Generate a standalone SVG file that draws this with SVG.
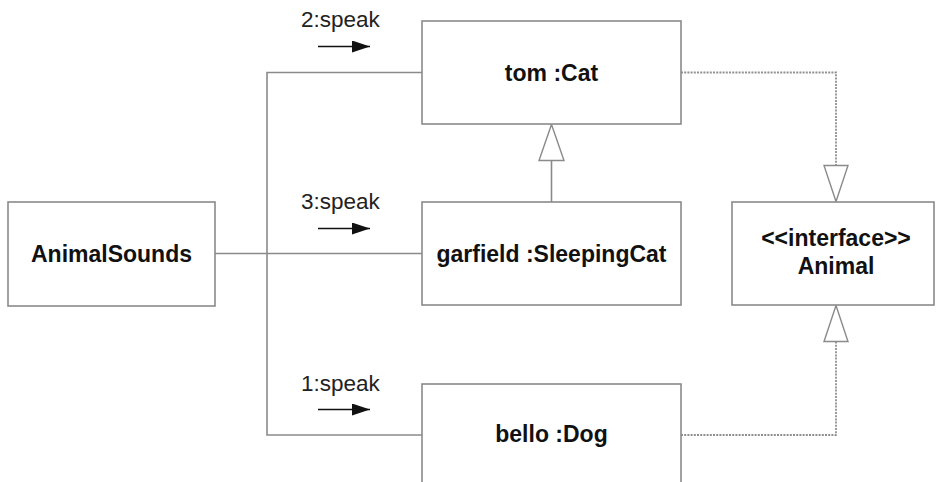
<svg xmlns="http://www.w3.org/2000/svg" width="936" height="482" viewBox="0 0 936 482">
  <defs>
    <style>
      .box { fill: #ffffff; stroke: #8a8a8a; stroke-width: 1.6; }
      .name { font-family: "Liberation Sans", Arial, sans-serif; font-size: 23px; font-weight: bold; fill: #111; text-anchor: middle; }
      .msg { font-family: "Liberation Sans", Arial, sans-serif; font-size: 22.5px; fill: #222; }
      .link { fill: none; stroke: #8a8a8a; stroke-width: 1.6; }
      .real { fill: none; stroke: #8f8f8f; stroke-width: 1.8; stroke-dasharray: 2 1.2; }
      .gen { fill: #ffffff; stroke: #8a8a8a; stroke-width: 1.4; }
      .dir { stroke: #111; stroke-width: 1.6; }
    </style>
    <marker id="msgArrow" viewBox="0 0 18 12" refX="18" refY="6" markerWidth="18" markerHeight="12" markerUnits="userSpaceOnUse" orient="auto">
      <path d="M0,0 L18,6 L0,12 Z" fill="#111"/>
    </marker>
  </defs>

  <rect width="936" height="482" fill="#ffffff"/>

  <!-- links between objects -->
  <g id="connectors">
    <path class="link" d="M215,253.5 H422"/>
    <path class="link" d="M422,72.5 H267 V435 H422"/>
    <!-- generalization: SleepingCat -> Cat -->
    <path class="link" d="M551.5,202 V160.5"/>
    <path class="gen" d="M551.5,124.5 L564,160.5 L539,160.5 Z"/>
    <!-- realizations of Animal -->
    <path class="real" d="M681,72.5 H836 V165.5"/>
    <path class="gen" d="M836,201.5 L848,165.5 L824,165.5 Z"/>
    <path class="real" d="M681,435 H836 V341.5"/>
    <path class="gen" d="M836,305.5 L848,341.5 L824,341.5 Z"/>

    <!-- message labels -->
    <text class="msg" x="301" y="27">2:speak</text>
    <line class="dir" x1="318" y1="46.5" x2="370" y2="46.5" marker-end="url(#msgArrow)"/>
    <text class="msg" x="301" y="208.5">3:speak</text>
    <line class="dir" x1="318" y1="228.5" x2="370" y2="228.5" marker-end="url(#msgArrow)"/>
    <text class="msg" x="301" y="390.5">1:speak</text>
    <line class="dir" x1="318" y1="409.5" x2="370" y2="409.5" marker-end="url(#msgArrow)"/>
  </g>

  <g id="animalSounds">
    <rect class="box" x="8" y="202" width="207" height="104"/>
    <text class="name" x="111.5" y="261.5">AnimalSounds</text>
  </g>

  <g id="tom">
    <rect class="box" x="422" y="21" width="259" height="103"/>
    <text class="name" x="551.5" y="80.5">tom :Cat</text>
  </g>

  <g id="garfield">
    <rect class="box" x="422" y="202" width="259" height="103"/>
    <text class="name" x="551.5" y="261.5">garfield :SleepingCat</text>
  </g>

  <g id="bello">
    <rect class="box" x="422" y="384" width="259" height="110"/>
    <text class="name" x="551.5" y="442">bello :Dog</text>
  </g>

  <g id="animal">
    <rect class="box" x="732" y="202" width="202" height="103"/>
    <text class="name" x="836" y="246">&lt;&lt;interface&gt;&gt;</text>
    <text class="name" x="836" y="273.5">Animal</text>
  </g>
</svg>
